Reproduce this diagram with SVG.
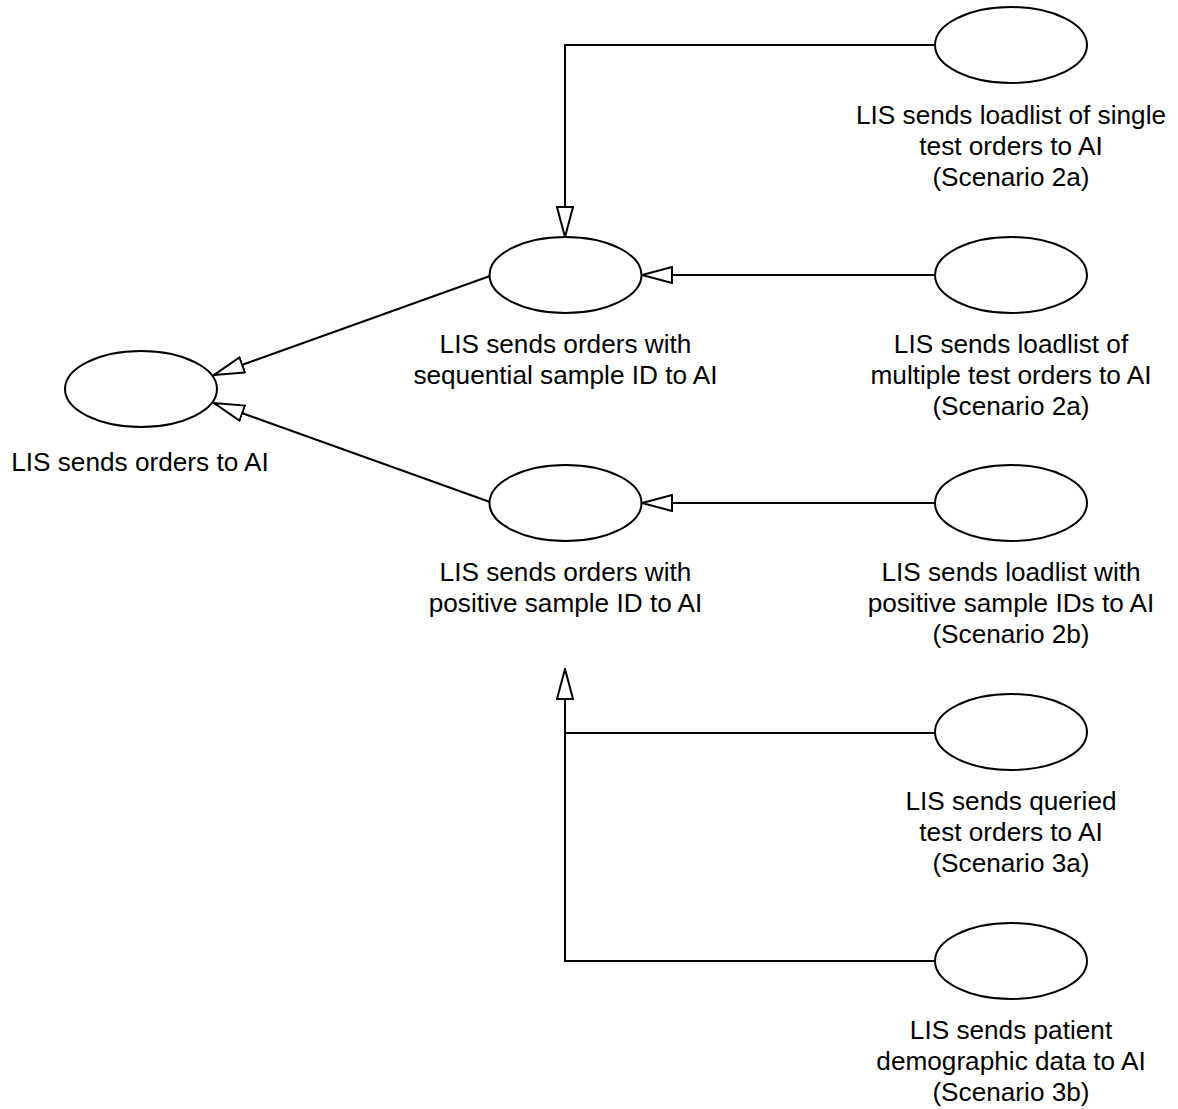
<svg xmlns="http://www.w3.org/2000/svg" width="1178" height="1109" viewBox="0 0 1178 1109">
  <style>
    .uc { fill: #ffffff; stroke: #000000; stroke-width: 2; }
    .lbl { font-family: "Liberation Sans", Arial, sans-serif; font-size: 26.2px; fill: #000000; text-anchor: middle; }
    .edge { fill: none; stroke: #000000; stroke-width: 2; }
  </style>
  <defs>
    <marker id="gen" viewBox="0 0 32 18" refX="31" refY="9" markerWidth="32" markerHeight="18" markerUnits="userSpaceOnUse" orient="auto">
      <path d="M1,1 L31,9 L1,17 Z" fill="#ffffff" stroke="#000000" stroke-width="2" stroke-linejoin="miter"/>
    </marker>
  </defs>
  <rect width="1178" height="1109" fill="#ffffff"/>

  <!-- generalisation connectors -->
  <g id="connectors">
    <path class="edge" d="M935,45 L565,45 L565,237" marker-end="url(#gen)"/>
    <path class="edge" d="M935,275 L642,275" marker-end="url(#gen)"/>
    <path class="edge" d="M935,503 L642,503" marker-end="url(#gen)"/>
    <path class="edge" d="M935,733 L565,733"/>
    <path class="edge" d="M935,961 L565,961 L565,669" marker-end="url(#gen)"/>
    <path class="edge" d="M490,276 L214,375" marker-end="url(#gen)"/>
    <path class="edge" d="M490,502 L214,403" marker-end="url(#gen)"/>
  </g>

  <g id="uc-orders">
    <ellipse class="uc" cx="141" cy="389" rx="76" ry="38"/>
    <text class="lbl" x="140" y="471">LIS sends orders to AI</text>
  </g>

  <g id="uc-sequential">
    <ellipse class="uc" cx="565.5" cy="275" rx="76" ry="38"/>
    <text class="lbl" x="565.5" y="353">LIS sends orders with</text>
    <text class="lbl" x="565.5" y="384">sequential sample ID to AI</text>
  </g>

  <g id="uc-positive">
    <ellipse class="uc" cx="565.5" cy="503" rx="76" ry="38"/>
    <text class="lbl" x="565.5" y="581">LIS sends orders with</text>
    <text class="lbl" x="565.5" y="612">positive sample ID to AI</text>
  </g>

  <g id="uc-2a-single">
    <ellipse class="uc" cx="1011" cy="45" rx="76" ry="38"/>
    <text class="lbl" x="1011" y="124">LIS sends loadlist of single</text>
    <text class="lbl" x="1011" y="155">test orders to AI</text>
    <text class="lbl" x="1011" y="186">(Scenario 2a)</text>
  </g>

  <g id="uc-2a-multiple">
    <ellipse class="uc" cx="1011" cy="275" rx="76" ry="38"/>
    <text class="lbl" x="1011" y="353">LIS sends loadlist of</text>
    <text class="lbl" x="1011" y="384">multiple test orders to AI</text>
    <text class="lbl" x="1011" y="415">(Scenario 2a)</text>
  </g>

  <g id="uc-2b">
    <ellipse class="uc" cx="1011" cy="503" rx="76" ry="38"/>
    <text class="lbl" x="1011" y="581">LIS sends loadlist with</text>
    <text class="lbl" x="1011" y="612">positive sample IDs to AI</text>
    <text class="lbl" x="1011" y="643">(Scenario 2b)</text>
  </g>

  <g id="uc-3a">
    <ellipse class="uc" cx="1011" cy="732" rx="76" ry="38"/>
    <text class="lbl" x="1011" y="810">LIS sends queried</text>
    <text class="lbl" x="1011" y="841">test orders to AI</text>
    <text class="lbl" x="1011" y="872">(Scenario 3a)</text>
  </g>

  <g id="uc-3b">
    <ellipse class="uc" cx="1011" cy="961" rx="76" ry="38"/>
    <text class="lbl" x="1011" y="1039">LIS sends patient</text>
    <text class="lbl" x="1011" y="1070">demographic data to AI</text>
    <text class="lbl" x="1011" y="1101">(Scenario 3b)</text>
  </g>
</svg>
